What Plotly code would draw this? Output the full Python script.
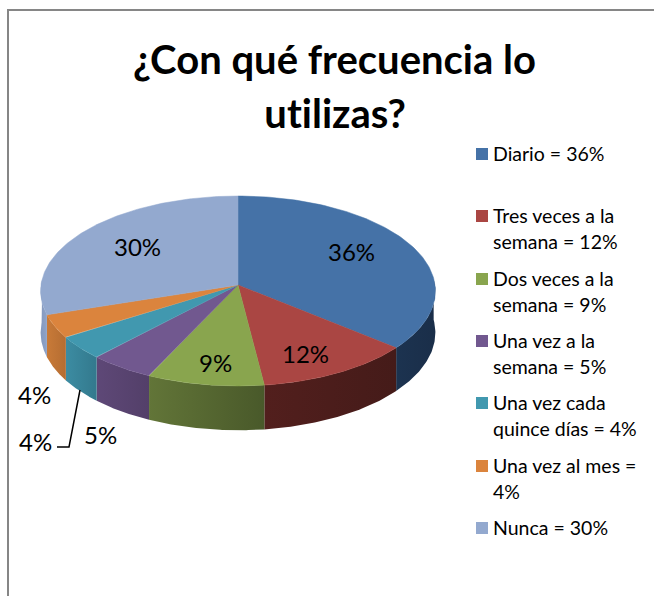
import numpy as np
import plotly.graph_objects as go

# ---------- data ----------
categories = ["Diario", "Tres veces a la semana", "Dos veces a la semana", "Una vez a la semana",
              "Una vez cada quince días", "Una vez al mes", "Nunca"]
values = [36, 12, 9, 5, 4, 4, 30]
top_colors = ["#4572A7", "#AA4643", "#89A54E", "#71588F", "#4198AF", "#DB843D", "#93A9CF"]
side_left = ["#1C3350", "#521F1D", "#627538", "#5E4877", "#3C8CA2", "#C87A38", "#8499BE"]
side_right = ["#1A2E49", "#451B19", "#49592A", "#533F69", "#33798D", "#B56D32", "#8FA3C8"]
legend_lines = [["Diario = 36%"], ["Tres veces a la", "semana = 12%"], ["Dos veces a la", "semana = 9%"],
                ["Una vez a la", "semana = 5%"], ["Una vez cada", "quince días = 4%"],
                ["Una vez al mes =", "4%"], ["Nunca = 30%"]]
title_lines = ["¿Con qué frecuencia lo", "utilizas?"]

# ---------- geometry of the perspective pie (pixels) ----------
CX, CY, A, B, K, DEPTH = 238, 285, 197, 94.6, 0.063, 41.5
FONT = "Lato"


def project(theta_deg, drop=0.0):
    t = np.radians(theta_deg)
    w = 1 + K * np.cos(t)
    return CX + A * np.sin(t) / w, CY - B * np.cos(t) / w + drop / w


fig = go.Figure()
edges = 360 * np.cumsum([0] + values) / sum(values)

# side walls (only the front half is visible)
for i in range(len(values)):
    a0, a1 = max(edges[i], 86), min(edges[i + 1], 274)
    if a1 <= a0:
        continue
    th = np.linspace(a0, a1, 60)
    xt, yt = project(th)
    xb, yb = project(th, DEPTH)
    fig.add_trace(go.Scatter(
        x=np.r_[xt, xb[::-1], xt[0]], y=np.r_[yt, yb[::-1], yt[0]],
        mode="lines", line=dict(width=0), fill="toself",
        fillgradient=dict(type="horizontal", colorscale=[[0, side_left[i]], [1, side_right[i]]]),
        hoverinfo="skip", showlegend=False))

# top faces
for i in range(len(values)):
    th = np.linspace(edges[i], edges[i + 1], 120)
    x, y = project(th)
    fig.add_trace(go.Scatter(
        x=np.r_[CX, x, CX], y=np.r_[CY, y, CY], mode="lines",
        line=dict(width=0.5, color=top_colors[i]), fill="toself", fillcolor=top_colors[i],
        name=categories[i], hoverinfo="name", showlegend=False))

# legend swatches
legend_y = [154, 216, 279, 341, 403, 466, 528]
fig.add_trace(go.Scatter(
    x=[482] * len(legend_y), y=legend_y, mode="markers",
    marker=dict(symbol="square", size=12, color=top_colors, line=dict(width=0)),
    hoverinfo="skip", showlegend=False))

# leader line of the small slice label
fig.add_trace(go.Scatter(x=[57, 69, 80], y=[447, 447, 390], mode="lines",
                         line=dict(color="#000000", width=1.5), hoverinfo="skip", showlegend=False))

# frame (left and top sides are what the crop shows)
fig.add_trace(go.Scatter(x=[8, 8, 654], y=[596, 10, 10], mode="lines",
                         line=dict(color="#868686", width=2), hoverinfo="skip", showlegend=False))


def label(x, y, text, size, anchor="center", bold=False):
    fig.add_annotation(x=x, y=y, text=f"<b>{text}</b>" if bold else text, showarrow=False, xanchor=anchor,
                       yanchor="middle", font=dict(family=FONT, size=size, color="#000000"))


label(334.5, 59, title_lines[0], 40, bold=True)
label(334.5, 113, title_lines[1], 40, bold=True)

slice_label_pos = [(351, 251), (305, 353), (215, 362), (100, 434), (34, 394), (35, 441), (137, 246)]
for (px, py), v in zip(slice_label_pos, values):
    label(px, py, f"{v}%", 24)

for ly, lines in zip(legend_y, legend_lines):
    for j, line in enumerate(lines):
        label(491, ly + 25.5 * j - 0.5, line, 19.5, anchor="left")

fig.update_layout(
    width=654, height=596, margin=dict(l=0, r=0, t=0, b=0),
    paper_bgcolor="#FFFFFF", plot_bgcolor="#FFFFFF", showlegend=False,
    xaxis=dict(range=[0, 654], visible=False, fixedrange=True),
    yaxis=dict(range=[596, 0], visible=False, fixedrange=True),
)
fig.write_html("out.html", config=dict(displayModeBar=False),
               post_script="document.body.style.margin='0';document.body.style.overflow='hidden';"
                           "var s=document.createElement('style');"
                           "s.textContent='svg text, svg text tspan{font-variant-ligatures:none !important;"
                           "font-feature-settings:\"liga\" 0,\"clig\" 0 !important}';"
                           "document.head.appendChild(s);")
